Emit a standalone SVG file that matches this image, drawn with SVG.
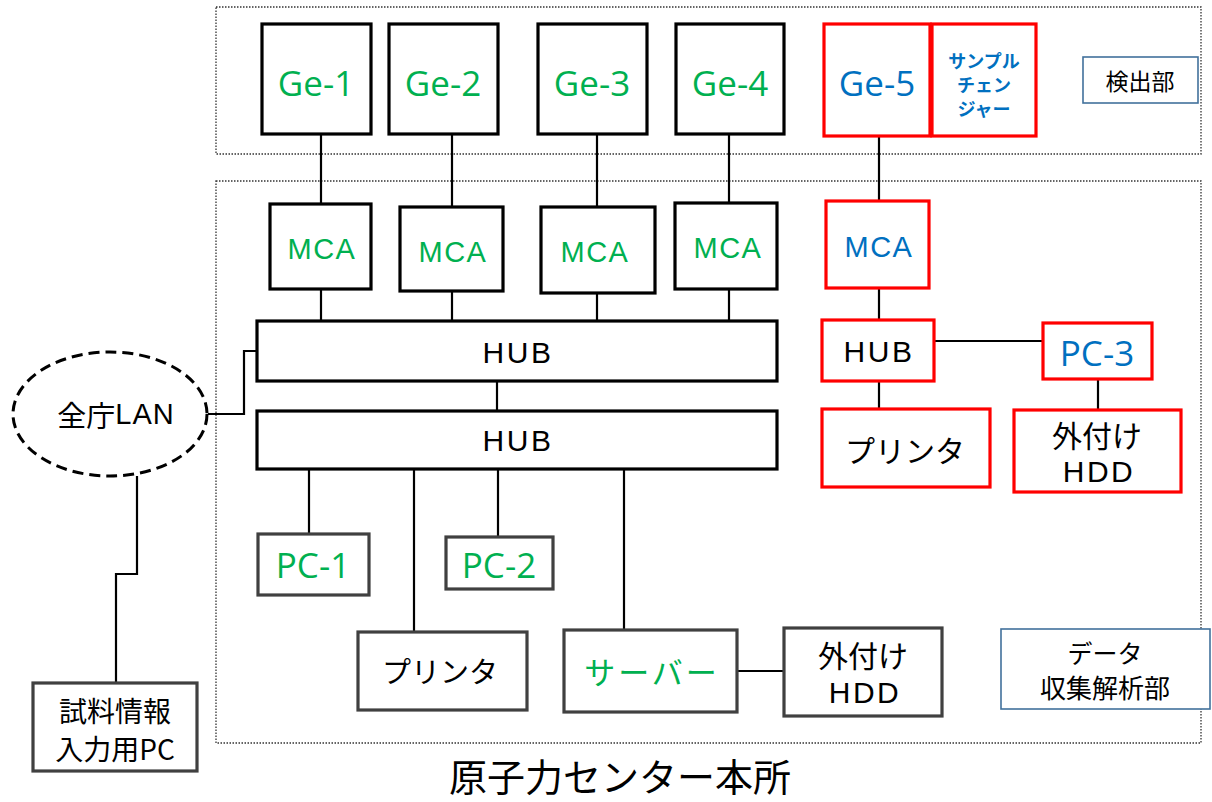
<svg xmlns="http://www.w3.org/2000/svg" width="1212" height="802" viewBox="0 0 1212 802">
<style>
.area{fill:none;stroke:#333;stroke-width:1.3;stroke-dasharray:1.5 1.5}
.bx{fill:#fff;stroke:#000;stroke-width:3.2}
.gx{fill:#fff;stroke:#404040;stroke-width:3.2}
.rx{fill:#fff;stroke:#ff0000;stroke-width:3.2}
.lx{fill:#fff;stroke:#41719c;stroke-width:1.6}
.ln{fill:none;stroke:#000;stroke-width:2.2}
text{font-family:"Noto Sans CJK JP","Noto Sans",sans-serif;text-anchor:middle;dominant-baseline:central}
.ge{font-family:"Open Sans","Noto Sans",sans-serif;font-size:35px}
.lat{font-family:"Liberation Sans","Arial",sans-serif}
.mca{font-family:"Liberation Sans","Arial",sans-serif;font-size:29px;letter-spacing:1.5px}
.hub{font-family:"Liberation Sans","Arial",sans-serif;font-size:30px;letter-spacing:2.5px}
.hdd{font-family:"Liberation Sans","Arial",sans-serif;font-size:30px;letter-spacing:2.5px}
.g{fill:#00b050}
.b{fill:#0070c0}
.k{fill:#000}
</style>
<rect class="area" x="216" y="7" width="985" height="147"/>
<rect class="area" x="216" y="181" width="985" height="562"/>
<g id="connectors">
<path class="ln" d="M321 134V204M452 134V207M597 134V207M729 134V203M879 136V201"/>
<path class="ln" d="M321 289V321M452 291V321M597 293V321M729 289V321"/>
<path class="ln" d="M497 381V411"/>
<path class="ln" d="M208 414H244V351H257"/>
<path class="ln" d="M137 476V574H116V683"/>
<path class="ln" d="M309 469V535M414 469V632M498 469V537M624 469V630"/>
<path class="ln" d="M737 671H784"/>
<path class="ln" d="M879 288V320M879 381V409M934 341H1043M1098 379V410"/>
</g>
<g id="ge1"><rect class="bx" x="262" y="24" width="109" height="110"/><text class="ge g" x="316" y="82">Ge-1</text></g>
<g id="ge2"><rect class="bx" x="389" y="24" width="109" height="110"/><text class="ge g" x="443" y="82">Ge-2</text></g>
<g id="ge3"><rect class="bx" x="538" y="24" width="109" height="110"/><text class="ge g" x="592" y="82">Ge-3</text></g>
<g id="ge4"><rect class="bx" x="676" y="24" width="108" height="110"/><text class="ge g" x="730" y="82">Ge-4</text></g>
<g id="ge5"><rect class="rx" x="824" y="24" width="106" height="112"/><text class="ge b" x="877" y="82">Ge-5</text></g>
<g id="changer"><rect class="rx" x="932" y="24" width="104" height="112"/><text class="b" font-size="18" font-weight="bold" x="984" y="60">サンプル</text><text class="b" font-size="18" font-weight="bold" x="984" y="84">チェン</text><text class="b" font-size="18" font-weight="bold" x="984" y="108">ジャー</text></g>
<g id="detector-label"><rect class="lx" x="1083" y="57" width="115" height="46"/><text class="k" font-size="23" x="1140" y="80">検出部</text></g>
<g id="mca1"><rect class="bx" x="270" y="204" width="101" height="85"/><text class="mca g" x="322" y="249">MCA</text></g>
<g id="mca2"><rect class="bx" x="400" y="207" width="103" height="84"/><text class="mca g" x="453" y="252">MCA</text></g>
<g id="mca3"><rect class="bx" x="541" y="207" width="114" height="86"/><text class="mca g" x="595" y="252">MCA</text></g>
<g id="mca4"><rect class="bx" x="675" y="203" width="102" height="86"/><text class="mca g" x="728" y="248">MCA</text></g>
<g id="mca5"><rect class="rx" x="826" y="201" width="103" height="87"/><text class="mca b" x="879" y="247">MCA</text></g>
<g id="hub1"><rect class="bx" x="257" y="321" width="520" height="60"/><text class="hub k" x="518" y="352">HUB</text></g>
<g id="hub2"><rect class="bx" x="257" y="411" width="520" height="58"/><text class="hub k" x="518" y="440">HUB</text></g>
<g id="lan"><ellipse cx="110" cy="414" rx="97" ry="62" fill="#fff" stroke="#000" stroke-width="3" stroke-dasharray="11 6"/><text class="k" font-size="29" x="116" y="414">全庁<tspan class="lat" letter-spacing="1">LAN</tspan></text></g>
<g id="sample-pc"><rect class="gx" x="33" y="683" width="164" height="88"/><text class="k" font-size="28" x="115" y="710">試料情報</text><text class="k" font-size="28" x="115" y="748">入力用PC</text></g>
<g id="pc1"><rect class="gx" x="258" y="534" width="111" height="61"/><text class="ge g" font-size="34" x="313" y="564">PC-1</text></g>
<g id="pc2"><rect class="gx" x="446" y="537" width="107" height="52"/><text class="ge g" font-size="34" x="499" y="564">PC-2</text></g>
<g id="printer1"><rect class="gx" x="358" y="632" width="169" height="78"/><text class="k" font-size="29" x="440" y="670">プリンタ</text></g>
<g id="server"><rect class="gx" x="564" y="630" width="173" height="82"/><text class="g" font-size="31" letter-spacing="3" x="652" y="670">サーバー</text></g>
<g id="hdd1"><rect class="gx" x="784" y="628" width="158" height="88"/><text class="k" font-size="30" x="863" y="654">外付け</text><text class="hdd k" x="865" y="692">HDD</text></g>
<g id="data-label"><rect class="lx" x="1001" y="629" width="209" height="80"/><text class="k" font-size="25" x="1105" y="652">データ</text><text class="k" font-size="26" x="1105" y="686">収集解析部</text></g>
<g id="hub3"><rect class="rx" x="822" y="320" width="112" height="61"/><text class="hub k" x="879" y="351">HUB</text></g>
<g id="pc3"><rect class="rx" x="1043" y="323" width="109" height="56"/><text class="ge b" font-size="34" x="1097" y="352">PC-3</text></g>
<g id="printer2"><rect class="rx" x="822" y="409" width="168" height="78"/><text class="k" font-size="30" x="905" y="449">プリンタ</text></g>
<g id="hdd2"><rect class="rx" x="1014" y="410" width="167" height="82"/><text class="k" font-size="30" x="1097" y="434">外付け</text><text class="hdd k" x="1099" y="471">HDD</text></g>
<text class="k" font-size="38" x="620" y="774">原子力センター本所</text>
</svg>
